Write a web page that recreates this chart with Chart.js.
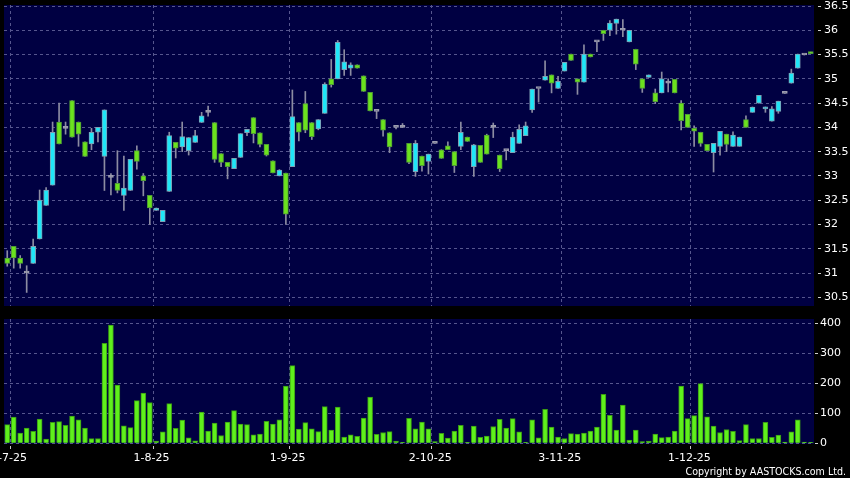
<!DOCTYPE html>
<html><head><meta charset="utf-8">
<script src="https://cdn.jsdelivr.net/npm/chart.js@4.4.1/dist/chart.umd.min.js"></script>
<style>
html,body{margin:0;padding:0;background:#000;width:850px;height:478px;overflow:hidden}
#wrap{position:relative;width:850px;height:478px;background:#000}
canvas{position:absolute;left:0}
#pc{top:0}
#vc{top:312px}
#copy{position:absolute;right:4px;top:465px;font:10.6px 'DejaVu Sans Condensed','DejaVu Sans',sans-serif;color:#fff;line-height:13px;white-space:nowrap}
</style></head><body>
<div id="wrap">
<canvas id="pc" width="850" height="312"></canvas>
<canvas id="vc" width="850" height="166"></canvas>
<div id="copy">Copyright by AASTOCKS.com Ltd.</div>
</div>
<script>
// ---- data ----
const tickIndex = [0, 22, 43, 65, 85, 105];
const tickLabels = ['2-7-25', '1-8-25', '1-9-25', '2-10-25', '3-11-25', '1-12-25'];
const priceTicks = [30.5, 31, 31.5, 32, 32.5, 33, 33.5, 34, 34.5, 35, 35.5, 36, 36.5];
const volumeTicks = [0, 100, 200, 300, 400];

const openP = [31.31,31.55,31.31,31.00,31.20,31.70,32.39,32.81,34.11,33.98,
34.55,34.11,33.70,33.66,33.90,33.40,32.97,32.85,32.60,32.70,
33.52,33.00,32.60,32.29,32.06,32.68,33.69,33.60,33.52,33.69,
34.10,34.31,34.10,33.46,33.28,33.15,33.38,33.89,34.20,33.89,
33.65,33.31,33.00,33.06,33.19,34.10,34.49,34.10,33.97,34.29,
35.00,35.00,35.19,35.22,35.29,35.06,34.72,34.33,34.16,33.89,
34.00,34.00,33.67,33.09,33.41,33.30,33.67,33.54,33.62,33.50,
33.61,33.80,33.19,33.63,33.84,34.00,33.43,33.52,33.48,33.67,
33.83,34.36,34.80,34.97,35.08,34.80,35.16,35.51,35.00,34.93,
35.51,35.76,36.00,36.00,36.14,36.00,35.76,35.61,35.00,35.03,
34.71,34.71,34.91,34.99,34.50,34.27,33.98,33.90,33.65,33.48,
33.61,33.86,33.61,33.61,34.16,34.31,34.50,34.38,34.13,34.33,
34.70,34.91,35.22,35.49,35.55];

const highP = [31.46,31.55,31.36,31.15,31.70,32.71,32.76,34.11,34.50,34.11,
34.55,34.11,33.70,33.98,34.00,34.36,33.05,33.52,33.41,33.34,
33.62,33.05,32.60,32.34,32.29,33.90,33.69,34.11,33.79,33.94,
34.31,34.44,34.10,33.46,33.28,33.36,33.87,33.96,34.20,33.89,
33.65,33.31,33.13,33.06,34.77,34.10,34.74,34.10,34.16,34.92,
35.40,35.79,35.60,35.33,35.29,35.06,34.72,34.33,34.16,33.89,
34.00,34.08,33.67,33.73,33.41,33.45,33.67,33.54,33.70,33.50,
34.11,33.80,33.65,33.63,33.86,34.09,33.43,33.52,33.90,34.05,
34.11,34.79,34.80,35.37,35.08,35.05,35.34,35.51,35.00,35.70,
35.51,35.76,36.00,36.20,36.23,36.22,36.00,35.61,35.00,35.08,
34.79,35.14,35.00,34.99,34.55,34.27,34.03,33.90,33.65,33.67,
33.92,33.86,33.91,33.80,34.24,34.42,34.66,34.42,34.43,34.54,
34.70,35.20,35.51,35.49,35.55];

const lowP = [31.14,31.10,31.10,30.60,31.20,31.70,32.39,32.81,33.66,33.86,
33.80,33.61,33.40,33.54,33.70,32.70,32.61,32.65,32.29,32.70,
33.14,32.59,32.00,32.29,32.06,32.68,33.37,33.50,33.43,33.69,
34.10,34.23,33.28,33.19,32.94,33.15,33.38,33.83,33.68,33.60,
33.41,33.06,33.00,32.00,33.19,33.72,33.89,33.75,33.95,34.29,
34.83,35.00,35.07,35.07,35.22,34.74,34.34,34.18,33.82,33.48,
33.97,34.00,33.25,32.99,33.10,33.04,33.67,33.36,33.54,33.07,
33.54,33.71,32.99,33.28,33.45,33.79,33.09,33.33,33.48,33.67,
33.83,34.31,34.52,34.97,34.71,34.80,35.16,35.38,34.68,34.93,
35.45,35.56,35.79,35.89,35.92,35.87,35.76,35.19,34.72,35.03,
34.49,34.71,34.73,34.71,33.95,34.00,33.61,33.61,33.52,33.08,
33.43,33.50,33.61,33.61,34.00,34.31,34.50,34.31,34.13,34.29,
34.70,34.91,35.22,35.49,35.52];

const closeP = [31.20,31.31,31.20,31.00,31.55,32.50,32.71,33.90,33.66,33.98,
33.80,33.86,33.40,33.90,34.00,34.36,32.97,32.70,32.75,33.34,
33.30,32.90,32.34,32.34,32.29,33.83,33.57,33.81,33.79,33.83,
34.24,34.31,33.34,33.28,33.19,33.36,33.87,33.96,33.87,33.65,
33.43,33.06,33.12,32.21,34.22,33.90,33.94,33.81,34.16,34.89,
34.88,35.75,35.35,35.29,35.22,34.74,34.34,34.33,33.94,33.60,
34.00,34.00,33.28,33.67,33.21,33.45,33.67,33.36,33.54,33.21,
33.90,33.71,33.64,33.28,33.45,34.00,33.15,33.52,33.80,33.96,
34.03,34.79,34.80,35.05,34.91,34.95,35.34,35.38,34.93,35.51,
35.45,35.76,35.93,36.15,36.23,36.00,36.00,35.30,34.80,35.08,
34.53,35.00,34.91,34.71,34.14,34.00,33.92,33.67,33.52,33.67,
33.92,33.65,33.84,33.80,34.00,34.42,34.66,34.42,34.38,34.54,
34.70,35.12,35.51,35.49,35.52];

const volume = [62,87,34,51,40,81,14,70,72,60,
91,78,51,16,16,333,394,194,58,52,
142,167,136,7,38,132,50,77,18,8,
104,41,67,26,71,109,64,62,28,31,
73,64,78,191,259,47,69,48,39,122,
44,121,21,28,23,84,154,30,36,39,
7,3,83,48,71,48,6,33,17,41,
60,3,57,20,24,56,80,51,82,38,
3,78,18,113,54,21,16,32,31,34,
41,54,163,93,44,127,11,44,6,7,
31,19,21,41,191,82,92,199,88,57,
36,46,40,9,62,16,16,70,20,27,
4,38,78,4,3];

// ---- styles ----
const PANEL_BG = '#000042';
const GRID = '#56568e';
const FONT = {family: "'DejaVu Sans', sans-serif", size: 11};
const UP_FILL = '#1fe6f7', UP_EDGE = '#7f9fb4';
const DN_FILL = '#6be21e', DN_EDGE = '#4f9a36';
const DOJI = '#9c9cae';
const WICK = '#8c8ca2';

const panelBg = {
  id: 'panelBg',
  beforeDraw(chart) {
    const {ctx, chartArea: a} = chart;
    ctx.save();
    ctx.fillStyle = PANEL_BG;
    ctx.fillRect(a.left, a.top, a.right - a.left, a.bottom - a.top);
    ctx.restore();
  }
};

const N = openP.length;
function xAxis(showLabels, h) {
  return {
    type: 'linear', min: -0.5, max: N - 0.5, offset: false,
    afterBuildTicks: s => { s.ticks = tickIndex.map(v => ({value: v + 0.5})); },
    ticks: {display: showLabels, autoSkip: false, maxRotation: 0, minRotation: 0,
            color: '#fff', font: FONT, padding: 3, labelOffset: -1.5,
            callback: (v, idx) => tickLabels[idx]},
    grid: {color: GRID, lineWidth: 1, drawTicks: showLabels, tickLength: 5, offset: false,
           tickColor: '#c8c8c8', tickWidth: 1, tickBorderDash: [3, 2], tickBorderDashOffset: 3},
    border: {display: false, dash: [3, 3]},
    afterFit: s => { s.height = h; s.paddingLeft = 0; s.paddingRight = 0; }
  };
}
function yAxis(min, max, ticks, tl, gap, pad) {
  return {
    type: 'linear', position: 'right', min: min, max: max,
    afterBuildTicks: s => { s.ticks = ticks.map(v => ({value: v})); },
    ticks: {color: '#fff', font: FONT, padding: pad, callback: v => String(v)},
    grid: {color: GRID, lineWidth: 1, tickLength: tl, tickColor: '#d0d0d0', tickWidth: 1,
           tickBorderDash: [tl - gap, gap], tickBorderDashOffset: tl - gap},
    border: {display: false, dash: [3, 3]},
    afterFit: s => { s.width = 36; s.paddingTop = 0; s.paddingBottom = 0; }
  };
}

const bodyFill = openP.map((o, i) => closeP[i] > o ? UP_FILL : closeP[i] < o ? DN_FILL : DOJI);
const bodyEdge = openP.map((o, i) => closeP[i] > o ? UP_EDGE : closeP[i] < o ? DN_EDGE : DOJI);

new Chart(document.getElementById('pc'), {
  type: 'bar',
  data: {
    datasets: [
      {label: 'body', order: 1, grouped: false,
       data: openP.map((o, i) => ({x: i, y: [o, closeP[i]]})),
       backgroundColor: bodyFill, borderColor: bodyEdge, borderWidth: 1, borderSkipped: false,
       barThickness: 5, minBarLength: 2},
      {label: 'wick', order: 2, grouped: false,
       data: lowP.map((l, i) => ({x: i, y: [l, highP[i]]})),
       backgroundColor: WICK, borderWidth: 0, barThickness: 1}
    ]
  },
  options: {
    responsive: false, animation: false, events: [],
    layout: {padding: {top: 5, bottom: 6, left: 4, right: 0}, autoPadding: false},
    plugins: {legend: {display: false}, tooltip: {enabled: false}},
    scales: {
      x: xAxis(false, 0),
      y: yAxis(30.5 - 8.7 / 48.55, 36.5 + 1 / 48.55, priceTicks, 7, 4, 3)
    }
  },
  plugins: [panelBg]
});

new Chart(document.getElementById('vc'), {
  type: 'bar',
  data: {
    datasets: [
      {label: 'volume', data: volume.map((v, i) => ({x: i, y: v})),
       backgroundColor: '#5ff01c', borderColor: '#3a9a14', borderWidth: 1,
       barThickness: 5, grouped: false}
    ]
  },
  options: {
    responsive: false, animation: false, events: [],
    layout: {padding: {top: 7, bottom: 0, left: 4, right: 0}, autoPadding: false},
    plugins: {legend: {display: false}, tooltip: {enabled: false}},
    scales: {
      x: xAxis(true, 34),
      y: yAxis(-0.7 / 0.3, 400 + 4.3 / 0.3, volumeTicks, 4, 1, 2)
    }
  },
  plugins: [panelBg]
});
</script>
</body></html>
